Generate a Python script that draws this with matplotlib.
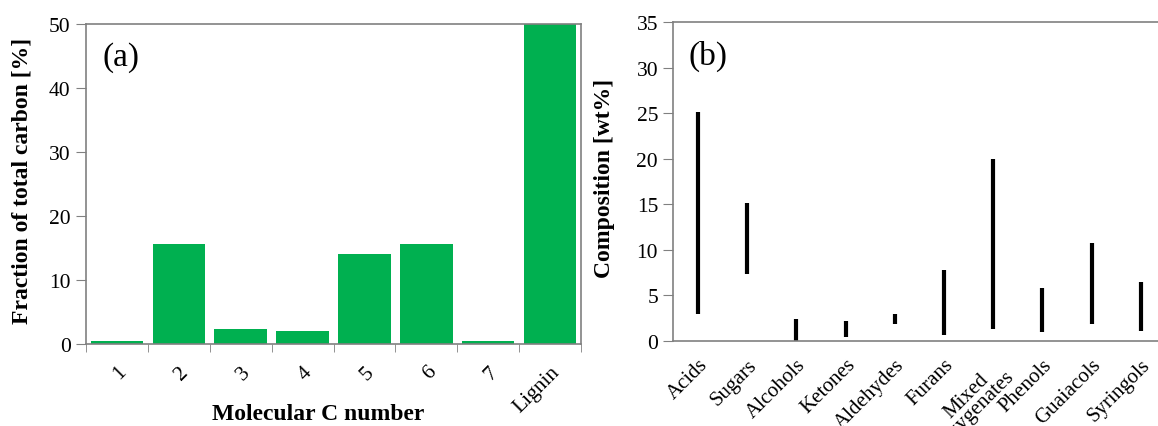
import matplotlib.pyplot as plt

plt.rcParams['font.family'] = ['Liberation Serif', 'DejaVu Serif']

# panel (a)
c_labels = ["1", "2", "3", "4", "5", "6", "7", "Lignin"]
c_frac = [0.47, 15.7, 2.35, 2.05, 14.1, 15.7, 0.47, 50.0]

# panel (b)
groups = ["Acids", "Sugars", "Alcohols", "Ketones", "Aldehydes", "Furans",
          "Mixed\noxygenates", "Phenols", "Guaiacols", "Syringols"]
comp_low = [3.0, 7.35, 0.0, 0.45, 1.85, 0.65, 1.3, 1.0, 1.85, 1.1]
comp_high = [25.1, 15.1, 2.4, 2.2, 3.0, 7.8, 20.0, 5.8, 10.7, 6.5]

green = "#00B050"
gray = "#808080"

fig = plt.figure(figsize=(11.58, 4.27), dpi=100)
ax1 = fig.add_axes([86/1158, 1-345/427, 495/1158, 320/427])
ax2 = fig.add_axes([673.4/1158, 1-342/427, 492/1158, 319/427])

for ax in (ax1, ax2):
    for s in ax.spines.values():
        s.set_color(gray)
        s.set_linewidth(1.2)
    ax.tick_params(axis='y', direction='out', length=7, color=gray,
                   labelsize=15.5, pad=4)

# (a)
pos = range(len(c_labels))
ax1.bar(pos, c_frac, width=0.85, color=green, zorder=2)
ax1.set_xlim(-0.5, len(c_labels) - 0.5)
ax1.set_ylim(0, 50)
ax1.set_yticks(range(0, 51, 10))
ax1.set_xticks(list(pos))
ax1.set_xticklabels(c_labels, rotation=45, ha='right', va='top',
                    rotation_mode='anchor', fontsize=15.5)
ax1.tick_params(axis='x', which='major', length=0, pad=13)
ax1.set_xticks([p - 0.5 for p in range(len(c_labels) + 1)], minor=True)
ax1.tick_params(axis='x', which='minor', direction='out', length=6, color=gray)
ax1.set_ylabel("Fraction of total carbon [%]", fontsize=17, fontweight='bold',
               va='center')
ax1.yaxis.set_label_coords(-0.129, 0.512)
ax1.set_xlabel("Molecular C number", fontsize=17, fontweight='bold',
               va='center')
ax1.xaxis.set_label_coords(0.47, -0.216)
ax1.text(0.033, 0.945, "(a)", transform=ax1.transAxes, fontsize=24,
         ha='left', va='top')

# (b)
gpos = range(len(groups))
ax2.vlines(gpos, comp_low, comp_high, color='black', linewidth=3, zorder=2)
ax2.set_xlim(-0.5, len(groups) - 0.5)
ax2.set_ylim(0, 35)
ax2.set_yticks(range(0, 36, 5))
ax2.set_xticks(list(gpos))
ax2.set_xticklabels(groups, rotation=45, ha='right', va='top',
                    rotation_mode='anchor', fontsize=15, linespacing=0.8,
                    multialignment='center')
ax2.tick_params(axis='x', length=0, pad=10)
ax2.spines['right'].set_visible(False)
ax2.set_ylabel("Composition [wt%]", fontsize=17, fontweight='bold',
               va='center')
ax2.yaxis.set_label_coords(-0.141, 0.514)
ax2.text(0.03, 0.945, "(b)", transform=ax2.transAxes, fontsize=24,
         ha='left', va='top')

fig.savefig("out.png", dpi=100)
